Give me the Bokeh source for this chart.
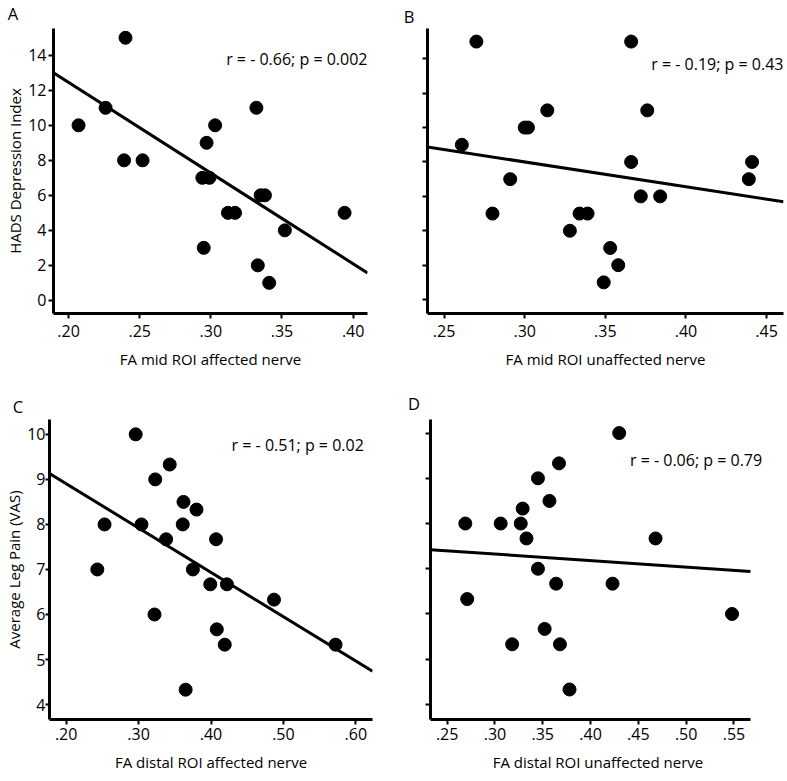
from bokeh.plotting import figure
from bokeh.layouts import column, row
from bokeh.models import FixedTicker, CustomJSTickFormatter, Range1d, Label
from bokeh.embed import file_html
from bokeh.resources import INLINE

FONT = "Open Sans"

# ---------------- data ----------------
# Panel A: FA mid ROI affected nerve vs HADS depression index
a_fa = [0.207, 0.226, 0.240, 0.239, 0.252, 0.294, 0.299, 0.297, 0.303, 0.295,
        0.312, 0.317, 0.332, 0.335, 0.338, 0.333, 0.341, 0.352, 0.394]
a_hads = [10, 11, 15, 8, 8, 7, 7, 9, 10, 3, 5, 5, 11, 6, 6, 2, 1, 4, 5]

# Panel B: FA mid ROI unaffected nerve vs HADS depression index
b_fa = [0.270, 0.366, 0.314, 0.376, 0.300, 0.302, 0.261, 0.366, 0.441, 0.291,
        0.439, 0.372, 0.384, 0.280, 0.334, 0.339, 0.328, 0.353, 0.358, 0.349]
b_hads = [15, 15, 11, 11, 10, 10, 9, 8, 8, 7, 7, 6, 6, 5, 5, 5, 4, 3, 2, 1]

# Panel C: FA distal ROI affected nerve vs average leg pain (VAS)
c_fa = [0.296, 0.343, 0.323, 0.362, 0.380, 0.253, 0.304, 0.361, 0.338, 0.407,
        0.243, 0.375, 0.399, 0.422, 0.487, 0.322, 0.408, 0.419, 0.572, 0.365]
c_pain = [10, 9.33, 9, 8.5, 8.33, 8, 8, 8, 7.67, 7.67,
          7, 7, 6.67, 6.67, 6.33, 6, 5.67, 5.33, 5.33, 4.33]

# Panel D: FA distal ROI unaffected nerve vs average leg pain (VAS)
d_fa = [0.430, 0.367, 0.345, 0.357, 0.329, 0.269, 0.306, 0.327, 0.333, 0.468,
        0.345, 0.364, 0.423, 0.271, 0.548, 0.352, 0.318, 0.368, 0.378]
d_pain = [10, 9.33, 9, 8.5, 8.33, 8, 8, 8, 7.67, 7.67,
          7, 6.67, 6.67, 6.33, 6, 5.67, 5.33, 5.33, 4.33]

# regression lines (slope, intercept) as drawn
fit_slope = [-51.8, -14.43, -9.85, -1.44]
fit_intercept = [22.81, 12.33, 10.875, 7.757]

stats = ["r = - 0.66; p = 0.002", "r = - 0.19; p = 0.43",
         "r = - 0.51; p = 0.02", "r = - 0.06; p = 0.79"]
letters = ["A", "B", "C", "D"]

x_titles = ["FA mid ROI affected nerve", "FA mid ROI unaffected nerve",
            "FA distal ROI affected nerve", "FA distal ROI unaffected nerve"]
y_titles = ["HADS Depression Index", None, "Average Leg Pain (VAS)", None]

a_xticks = [0.20, 0.25, 0.30, 0.35, 0.40]
a_xlabels = [".20", ".25", ".30", ".35", ".40"]
b_xticks = [0.25, 0.30, 0.35, 0.40, 0.45]
b_xlabels = [".25", ".30", ".35", ".40", ".45"]
c_xticks = [0.20, 0.30, 0.40, 0.50, 0.60]
c_xlabels = [".20", ".30", ".40", ".50", ".60"]
d_xticks = [0.25, 0.30, 0.35, 0.40, 0.45, 0.50, 0.55]
d_xlabels = [".25", ".30", ".35", ".40", ".45", ".50", ".55"]

hads_ticks = [0, 2, 4, 6, 8, 10, 12, 14]
hads_labels = ["0", "2", "4", "6", "8", "10", "12", "14"]
pain_ticks = [4, 5, 6, 7, 8, 9, 10]
pain_labels = ["4", "5", "6", "7", "8", "9", "10"]

FMT_CODE = """
for (let i = 0; i < tick_vals.length; i++) {
    if (Math.abs(tick_vals[i] - tick) < 1e-9) { return tick_texts[i]; }
}
return "";
"""

PAGE_W = 787


def letter_strip(height, items):
    """A thin, axis-less strip holding the panel letters (pixel coordinates)."""
    s = figure(width=PAGE_W, height=height, output_backend="svg", toolbar_location=None,
               x_range=Range1d(0, PAGE_W), y_range=Range1d(height, 0),
               x_axis_location=None, y_axis_location=None,
               min_border_left=0, min_border_right=0, min_border_top=0, min_border_bottom=0)
    s.outline_line_color = None
    s.grid.visible = False
    s.background_fill_color = "white"
    s.border_fill_color = "white"
    for txt, x, y in items:
        s.add_layout(Label(x=x, y=y, text=txt, text_align="center", text_baseline="middle",
                           text_font=FONT, text_font_size="16.5px", text_color="black"))
    return s


def make_panel(idx, fa, score, xr, xbounds, yr, xticks, xlabels, yticks, ylabels, show_ylabels,
               width, height, borders, stat_xy,
               x_lab_standoff, x_title_standoff, y_lab_standoff, y_tick_out):
    p = figure(width=width, height=height, output_backend="svg", toolbar_location=None,
               x_range=Range1d(*xr), y_range=Range1d(*yr),
               min_border_left=borders[0], min_border_right=borders[1],
               min_border_top=borders[2], min_border_bottom=borders[3])
    p.outline_line_color = None
    p.grid.visible = False
    p.background_fill_color = "white"
    p.border_fill_color = "white"

    p.xaxis.ticker = FixedTicker(ticks=xticks)
    p.xaxis.formatter = CustomJSTickFormatter(
        args=dict(tick_vals=xticks, tick_texts=xlabels), code=FMT_CODE)
    p.xaxis.bounds = xbounds
    p.yaxis.ticker = FixedTicker(ticks=yticks)
    p.yaxis.formatter = CustomJSTickFormatter(
        args=dict(tick_vals=yticks, tick_texts=ylabels if show_ylabels else [""] * len(ylabels)),
        code=FMT_CODE)

    for ax in (p.xaxis, p.yaxis):
        ax.axis_line_width = 3
        ax.axis_line_color = "black"
        ax.major_tick_line_width = 2
        ax.major_tick_line_color = "black"
        ax.major_tick_out = 5
        ax.major_tick_in = 0
        ax.minor_tick_out = 0
        ax.minor_tick_in = 0
        ax.major_label_text_font = FONT
        ax.major_label_text_font_size = "16px"
        ax.major_label_text_color = "black"
        ax.axis_label_text_font = FONT
        ax.axis_label_text_font_size = "15px"
        ax.axis_label_text_font_style = "normal"
        ax.axis_label_text_color = "black"

    p.yaxis.major_tick_out = y_tick_out
    p.xaxis.major_label_standoff = x_lab_standoff
    p.yaxis.major_label_standoff = y_lab_standoff
    p.xaxis.axis_label = x_titles[idx]
    p.xaxis.axis_label_standoff = x_title_standoff
    if y_titles[idx]:
        p.yaxis.axis_label = y_titles[idx]
        p.yaxis.axis_label_standoff = 0

    x0, x1 = xbounds
    p.line([x0, x1], [fit_intercept[idx] + fit_slope[idx] * x0, fit_intercept[idx] + fit_slope[idx] * x1],
           line_color="black", line_width=3)
    p.scatter(fa, score, size=13, fill_color="black", line_color="black")

    p.add_layout(Label(x=stat_xy[0], y=stat_xy[1], text=stats[idx], text_align="right",
                       text_baseline="middle", text_font=FONT, text_font_size="16px",
                       text_color="black"))
    return p


strip1 = letter_strip(27, [(letters[0], 12.5, 12.5), (letters[1], 408.5, 15.5)])
pA = make_panel(0, a_fa, a_hads, (0.1894, 0.4101), (0.1894, 0.4101), (-0.75, 15.53),
                a_xticks, a_xlabels, hads_ticks, hads_labels, True,
                400, 363, (53, 33, 0, 75), (0.4101, 13.76), 6, 9, 2, 5)
pB = make_panel(1, b_fa, b_hads, (0.2397, 0.4605), (0.2397, 0.4605), (-0.81, 15.76),
                b_xticks, b_xlabels, hads_ticks, hads_labels, False,
                387, 363, (27, 4, 1, 77), (0.4605, 13.72), 6, 9, 2, 5)
strip2 = letter_strip(27, [(letters[2], 17.5, 15.5), (letters[3], 413.5, 13.3)])
pC = make_panel(2, c_fa, c_pain, (0.177, 0.623), (0.177, 0.623), (3.668, 10.33),
                c_xticks, c_xlabels, pain_ticks, pain_labels, True,
                400, 363, (49, 28, 0, 61), (0.611, 9.76), 3, 9, 0, 4)
pD = make_panel(3, d_fa, d_pain, (0.2326, 0.583), (0.2326, 0.5673), (3.667, 10.30),
                d_xticks, d_xlabels, pain_ticks, pain_labels, False,
                387, 363, (30, 22, 2, 61), (0.5795, 9.41), 3, 9, 2, 5)

layout = column(strip1, row(pA, pB), strip2, row(pC, pD))
open("out.html", "w").write(file_html(layout, INLINE))
